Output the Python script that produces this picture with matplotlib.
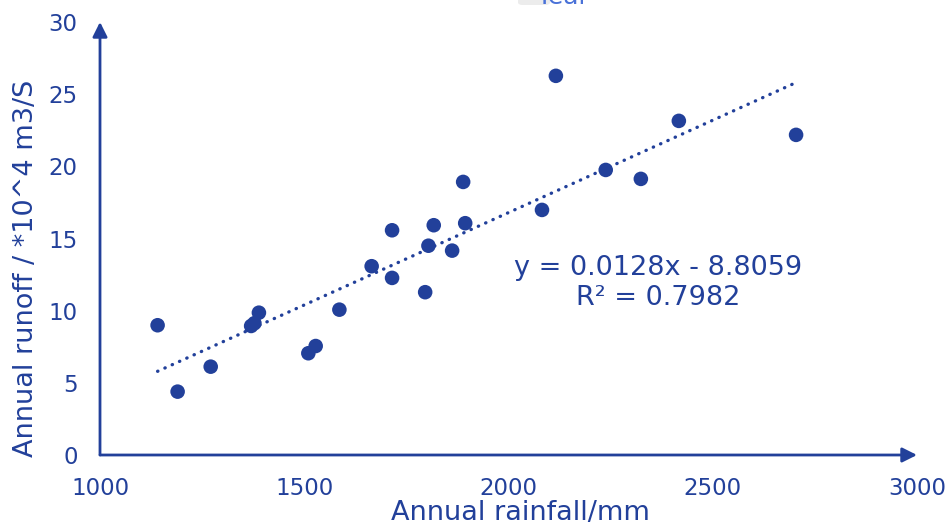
import matplotlib
matplotlib.use('Agg')
import matplotlib.pyplot as plt
from matplotlib.patches import FancyBboxPatch
import numpy as np

# annual rainfall (mm) vs annual runoff (*10^4 m3/s)
rainfall = [1141, 1190, 1271, 1370, 1378, 1389, 1510, 1528, 1586, 1665,
            1715, 1715, 1796, 1804, 1817, 1862, 1894, 1889, 2082, 2116,
            2238, 2324, 2417, 2704]
runoff = [8.99, 4.39, 6.12, 8.94, 9.13, 9.86, 7.05, 7.55, 10.07, 13.08,
          15.57, 12.27, 11.28, 14.50, 15.92, 14.16, 16.06, 18.92, 16.98, 26.27,
          19.75, 19.13, 23.15, 22.18]

# linear trendline as reported on the chart
slope, intercept, r2 = 0.0128, -8.8059, 0.7982

x_ticks = [1000, 1500, 2000, 2500, 3000]
y_ticks = [0, 5, 10, 15, 20, 25, 30]

BLUE = '#22409a'
plt.rcParams['font.family'] = ['DejaVu Sans']

fig = plt.figure(figsize=(9.5, 5.28), dpi=100)
fig.patch.set_facecolor('white')
ax = fig.add_axes([100 / 950, 1 - 455 / 528, 817 / 950, 433 / 528])

ax.set_xlim(1000, 3000)
ax.set_ylim(0, 30)
for s in ax.spines.values():
    s.set_visible(False)

# axis lines with arrow heads
arrow = dict(arrowstyle='-|>', color=BLUE, lw=2, mutation_scale=22, shrinkA=0, shrinkB=0)
ax.annotate('', xy=(1, 0), xytext=(0, 0), xycoords='axes fraction', arrowprops=arrow, annotation_clip=False)
ax.annotate('', xy=(0, 1), xytext=(0, 0), xycoords='axes fraction', arrowprops=arrow, annotation_clip=False)

ax.scatter(rainfall, runoff, s=110, color=BLUE, edgecolors='none', zorder=3, clip_on=False)

tx = np.array([min(rainfall), max(rainfall)])
ax.plot(tx, slope * tx + intercept, color=BLUE, lw=2.4,
        linestyle=(0, (0.1, 2.3)), dash_capstyle='round', zorder=2)

ax.text(0.683, 0.398, f'y = {slope}x - {abs(intercept)}\nR² = {r2}',
        transform=ax.transAxes, ha='center', va='center',
        fontsize=19.5, color=BLUE, linespacing=1.2)

ax.set_xticks(x_ticks)
ax.set_yticks(y_ticks)
ax.tick_params(length=0, labelsize=16.5, labelcolor=BLUE, pad=16)

ax.set_xlabel('Annual rainfall/mm', fontsize=19.5, color=BLUE)
ax.xaxis.set_label_coords(0.514, -0.134)
ax.xaxis.label.set_va('center')
ax.set_ylabel('Annual runoff / *10^4 m3/S', fontsize=19.5, color=BLUE)
ax.yaxis.set_label_coords(-0.0906, 0.432)
ax.yaxis.label.set_va('center')

# chart title sits clipped at the very top, as in the source
fig.patches.append(FancyBboxPatch((518 / 950, 1 - 5 / 528), 32 / 950, 12 / 528,
                                  boxstyle='round,pad=0,rounding_size=0.005',
                                  transform=fig.transFigure, facecolor='#ececec',
                                  edgecolor='none'))
fig.text(563 / 950, 1 - 4 / 528, 'Year', ha='center', va='baseline',
         fontsize=18, color='#4a72d8')

fig.savefig('out.png', dpi=100, facecolor='white')
